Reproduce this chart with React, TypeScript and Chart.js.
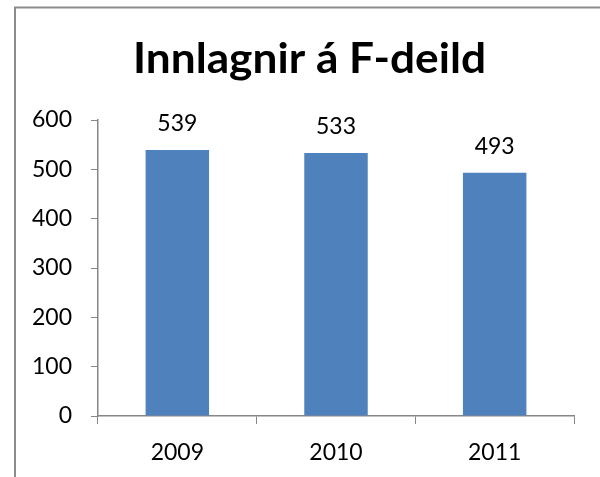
import React, { useEffect, useRef } from "react";
import { Chart, registerables } from "chart.js";

Chart.register(...registerables);

const title = "Innlagnir á F-deild";
const categories = ["2009", "2010", "2011"];
const values = [539, 533, 493];
const yMin = 0;
const yMax = 600;
const yStep = 100;

const FONT = "Lato, 'Open Sans', sans-serif";
const AXIS = "#868686";

export default function App() {
  const ref = useRef<HTMLCanvasElement | null>(null);
  useEffect(() => {
    if (!ref.current) return;
    const decor = {
      id: "decor",
      beforeDraw(chart: any) {
        const ctx = chart.ctx;
        ctx.save();
        ctx.fillStyle = "#ffffff";
        ctx.fillRect(0, 0, chart.width, chart.height);
        ctx.strokeStyle = "#8c8c8c";
        ctx.lineWidth = 2;
        ctx.beginPath();
        ctx.moveTo(15, chart.height + 5);
        ctx.lineTo(15, 7.5);
        ctx.lineTo(chart.width + 5, 7.5);
        ctx.stroke();
        // title
        ctx.font = `bold 42px ${FONT}`;
        ctx.fillStyle = "#000000";
        ctx.textBaseline = "alphabetic";
        ctx.textAlign = "left";
        const w = ctx.measureText(title).width;
        const target = 353;
        const sx = target / w;
        ctx.translate(133, 73);
        ctx.scale(sx, 1);
        ctx.fillText(title, 0, 0);
        ctx.restore();
      },
      afterDatasetsDraw(chart: any) {
        const ctx = chart.ctx;
        const meta = chart.getDatasetMeta(0);
        ctx.save();
        ctx.font = `23px ${FONT}`;
        ctx.fillStyle = "#000000";
        ctx.textAlign = "center";
        ctx.textBaseline = "alphabetic";
        meta.data.forEach((bar: any, i: number) => {
          ctx.fillText(String(values[i]), bar.x, bar.y - 19);
        });
        ctx.restore();
      },
    };
    const chart = new Chart(ref.current, {
      type: "bar",
      data: {
        labels: categories,
        datasets: [
          {
            data: values,
            backgroundColor: "#4F81BD",
            borderWidth: 0,
            categoryPercentage: 0.8,
            barPercentage: 0.5,
          },
        ],
      },
      options: {
        animation: false,
        responsive: false,
        maintainAspectRatio: false,
        layout: { padding: { top: 120, right: 26, bottom: 0, left: 0 } },
        plugins: {
          legend: { display: false },
          tooltip: { enabled: false },
          title: { display: false },
        },
        scales: {
          x: {
            afterFit: (s: any) => {
              s.height = 61;
            },
            grid: {
              offset: true,
              drawOnChartArea: false,
              drawTicks: true,
              tickLength: 8,
              color: AXIS,
            },
            border: { color: AXIS, width: 1.5 },
            ticks: {
              font: { family: FONT, size: 23 },
              color: "#000000",
              padding: 15,
            },
          },
          y: {
            min: yMin,
            max: yMax,
            afterFit: (s: any) => {
              s.width = 98;
            },
            grid: {
              drawOnChartArea: false,
              drawTicks: true,
              tickLength: 7,
              color: AXIS,
            },
            border: { color: AXIS, width: 1.5 },
            ticks: {
              stepSize: yStep,
              font: { family: FONT, size: 23 },
              color: "#000000",
              padding: 19,
            },
          },
        },
      },
      plugins: [decor],
    });
    return () => chart.destroy();
  }, []);
  return (
    <div style={{ position: "fixed", left: 0, top: 0, width: 600, height: 477 }}>
      <canvas ref={ref} width={600} height={477} />
    </div>
  );
}
